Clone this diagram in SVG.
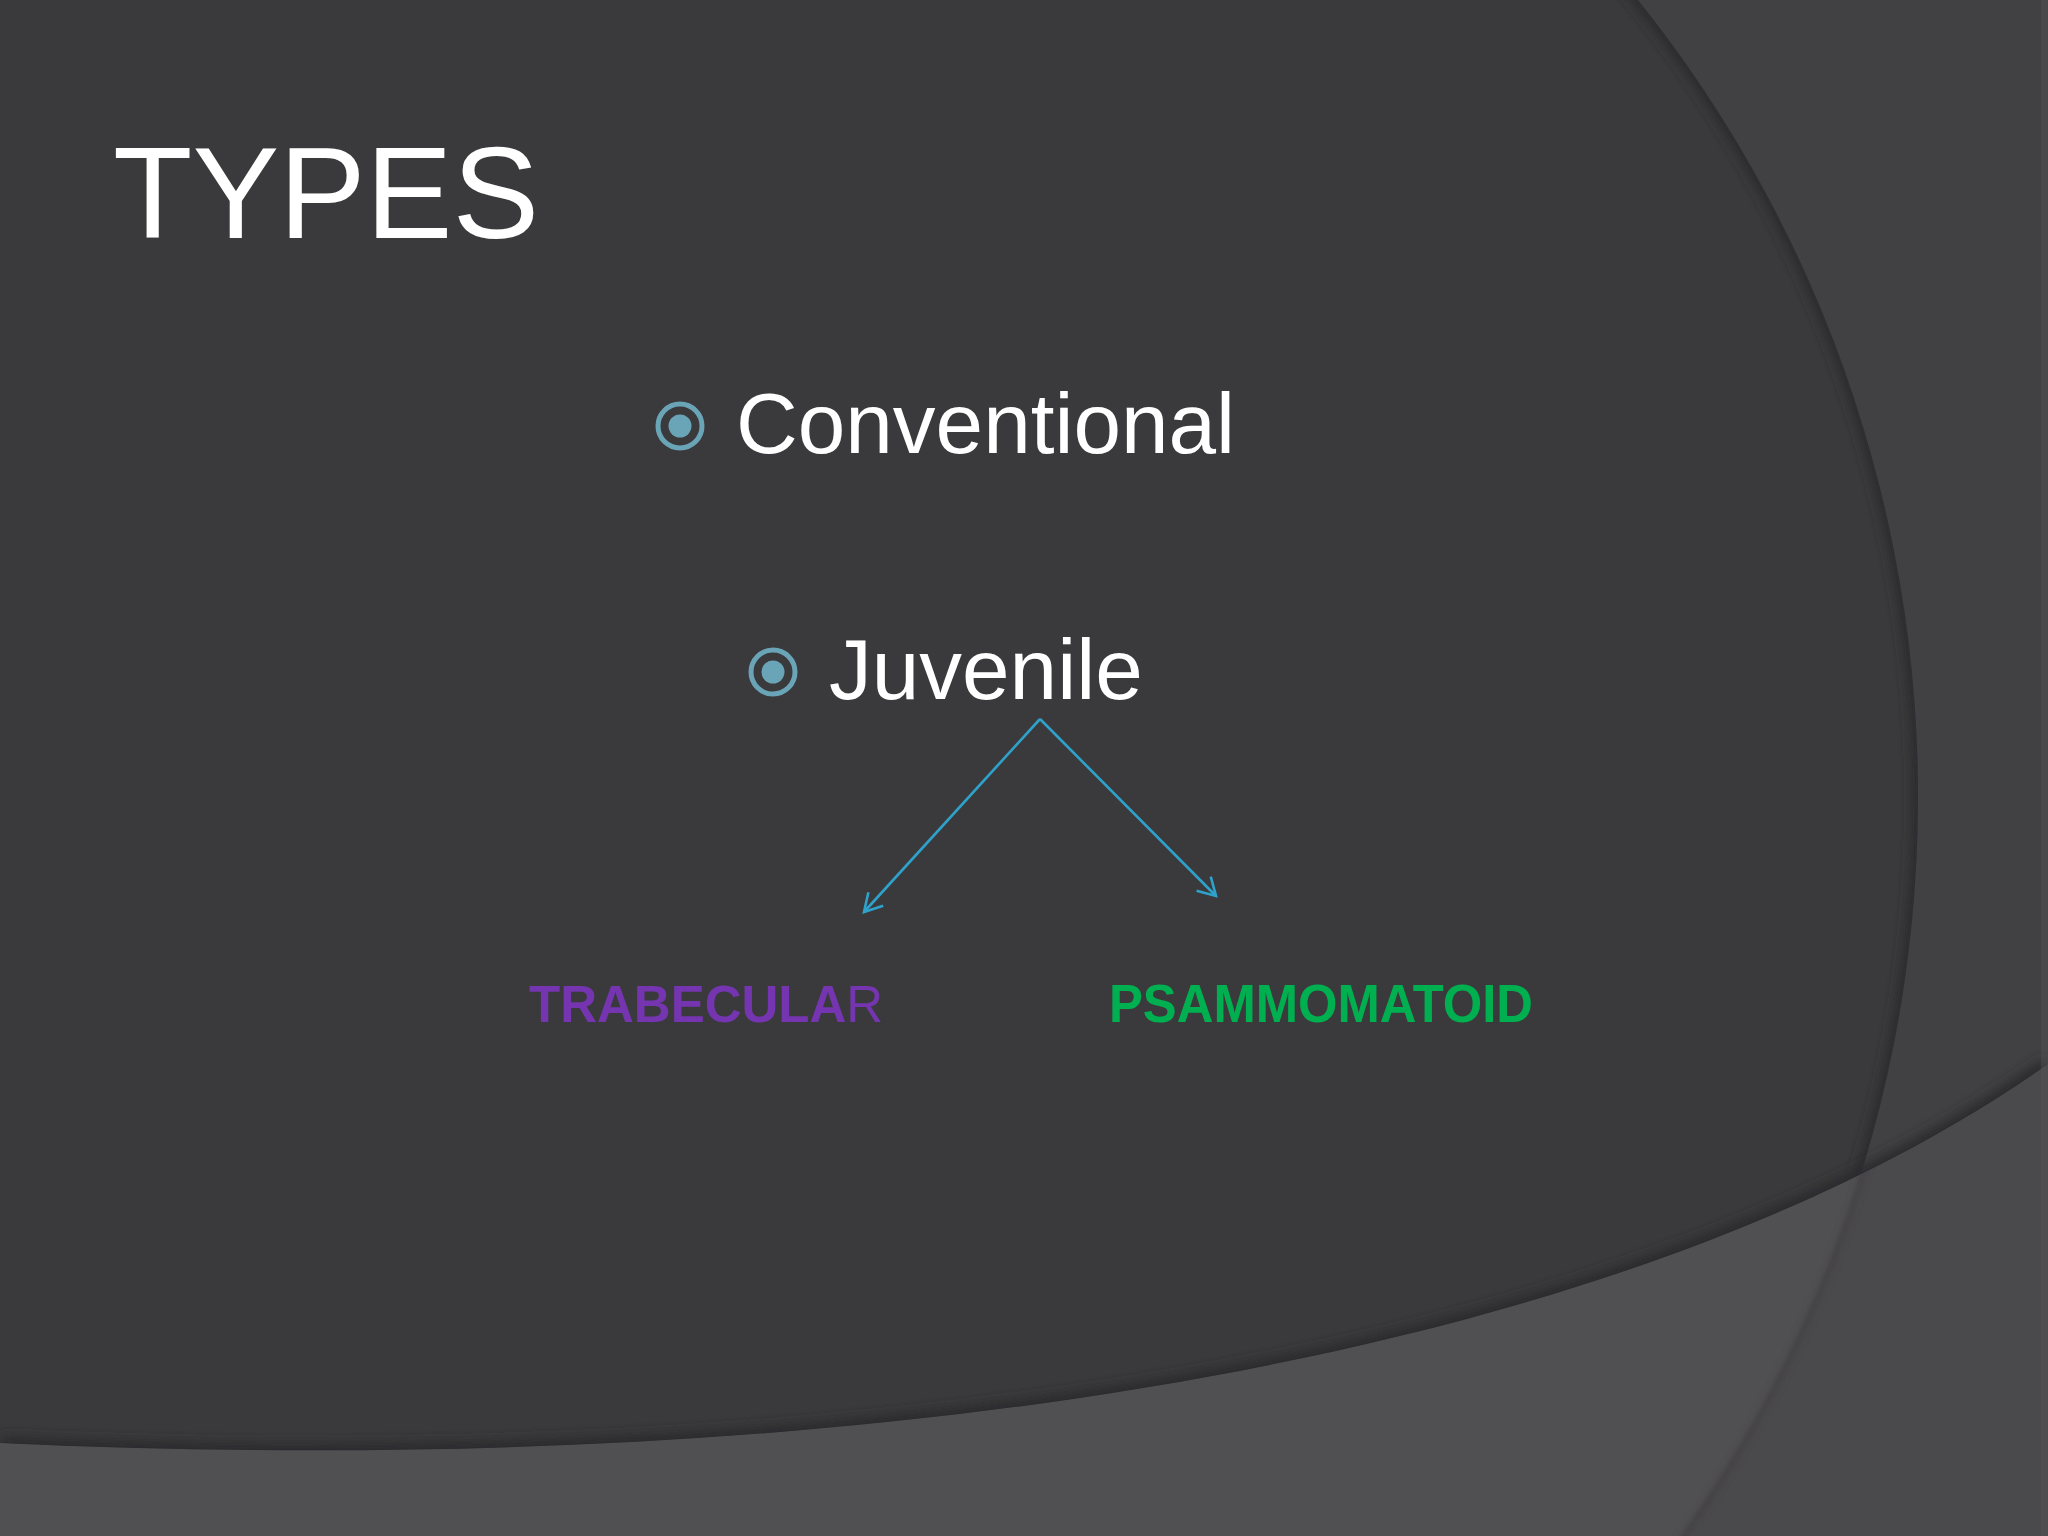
<svg xmlns="http://www.w3.org/2000/svg" width="2048" height="1536" viewBox="0 0 2048 1536">
  <style>
    .title { font-family: "Liberation Sans", Arial, sans-serif; font-size: 130px; fill: #ffffff; }
    .item { font-family: "Liberation Sans", Arial, sans-serif; font-size: 85.5px; fill: #ffffff; }
    .sub { font-family: "Liberation Sans", Arial, sans-serif; font-size: 53px; }
    .sub-t { font-family: "Liberation Sans", Arial, sans-serif; font-size: 51px; }
    .bullet-ring { fill: none; stroke: #6aa4b7; stroke-width: 5; }
    .bullet-dot { fill: #6aa4b7; }
    .conn { stroke: #2fa2cc; stroke-width: 2.6; fill: none; }
  </style>
  <defs>
    <marker id="arrow" viewBox="-24 -14 28 28" refX="0" refY="0" markerWidth="28" markerHeight="28" markerUnits="userSpaceOnUse" orient="auto">
      <path d="M -17.5 -10 L 0 0 L -17.5 10" fill="none" stroke="#2fa2cc" stroke-width="2.6" stroke-linejoin="miter"/>
    </marker>
    <clipPath id="inCircle">
      <circle cx="644" cy="797" r="1274"/>
    </clipPath>
    <clipPath id="aboveBand">
      <path d="M0,0 H2048 V1064 C1600,1380 800,1480 0,1443 Z"/>
    </clipPath>
    <clipPath id="band">
      <path d="M0,1443 C800,1480 1600,1380 2048,1064 V1536 H0 Z"/>
    </clipPath>
    <filter id="blur6" x="-10%" y="-10%" width="120%" height="120%">
      <feGaussianBlur stdDeviation="6"/>
    </filter>
    <filter id="blur3" x="-10%" y="-10%" width="120%" height="120%">
      <feGaussianBlur stdDeviation="3"/>
    </filter>
  </defs>

  <!-- background -->
  <rect x="0" y="0" width="2048" height="1536" fill="#414143"/>
  <circle cx="644" cy="797" r="1274" fill="#3a3a3c"/>
  <g clip-path="url(#inCircle)">
    <circle cx="644" cy="797" r="1276" fill="none" stroke="#2b2b2d" stroke-width="16" filter="url(#blur6)"/>
  </g>
  <path d="M0,1443 C800,1480 1600,1380 2048,1064 V1536 H0 Z" fill="#4a494c"/>
  <g clip-path="url(#band)">
    <circle cx="644" cy="797" r="1274" fill="#504f52"/>
    <circle cx="644" cy="797" r="1276" fill="none" stroke="#444346" stroke-width="6" filter="url(#blur3)"/>
  </g>
  <g clip-path="url(#aboveBand)">
    <path d="M0,1445 C800,1482 1600,1382 2048,1066" fill="none" stroke="#2c2c2e" stroke-width="18" filter="url(#blur6)"/>
  </g>
  <rect x="2041" y="0" width="7" height="1536" fill="#555457" opacity="0.4"/>

  <!-- title -->
  <g id="title">
    <text class="title" x="113" y="238">TYPES</text>
  </g>

  <!-- nodes -->
  <g id="node-conventional">
    <circle class="bullet-ring" cx="680" cy="426" r="22"/>
    <circle class="bullet-dot" cx="680" cy="426" r="11.5"/>
    <text class="item" x="736" y="453">Conventional</text>
  </g>
  <g id="node-juvenile">
    <circle class="bullet-ring" cx="773" cy="672" r="22"/>
    <circle class="bullet-dot" cx="773" cy="672" r="11.5"/>
    <text class="item" x="829" y="699">Juvenile</text>
  </g>
  <g id="node-trabecular">
    <text class="sub-t" x="529" y="1022" fill="#7535b0"><tspan font-weight="bold">TRABECULA</tspan>R</text>
  </g>
  <g id="node-psammomatoid">
    <text class="sub" x="1109" y="1022" fill="#00b050" font-weight="bold" textLength="424" lengthAdjust="spacingAndGlyphs">PSAMMOMATOID</text>
  </g>

  <!-- connectors -->
  <g id="connectors">
    <line class="conn" x1="1040" y1="719" x2="864" y2="912" marker-end="url(#arrow)"/>
    <line class="conn" x1="1040" y1="719" x2="1216" y2="896" marker-end="url(#arrow)"/>
  </g>
</svg>
